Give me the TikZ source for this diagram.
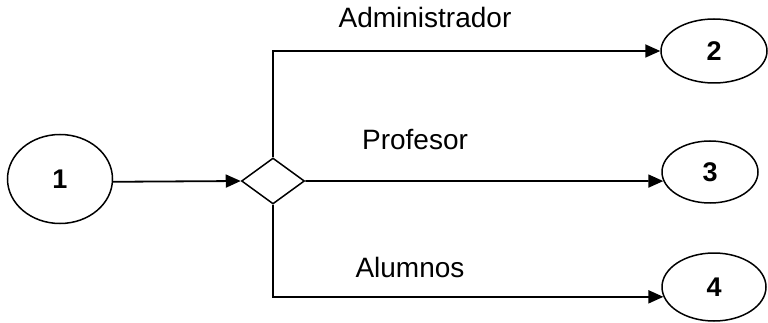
\documentclass[tikz,border=0pt]{standalone}
\usepackage{fontspec}
\setmainfont{Liberation Sans}
\usetikzlibrary{shapes.geometric,arrows.meta}
\tikzset{
  state/.style={draw, ellipse, line width=1.5pt, inner sep=0pt, font=\fontsize{27}{30}\selectfont\bfseries},
  choice/.style={draw, diamond, line width=1.5pt, inner sep=0pt, minimum width=63pt, minimum height=46pt},
  flow/.style={line width=1.8pt, -{Triangle[length=15pt,width=13pt]}},
  lbl/.style={anchor=base, inner sep=0pt, font=\fontsize{28}{32}\selectfont}
}
\begin{document}
\begin{tikzpicture}[x=1pt,y=-1pt]
\useasboundingbox (0,0) rectangle (768,323);
\node[state, minimum width=105pt, minimum height=89pt] (e1) at (60,179) {1};
\node[choice] (d) at (273,181) {};
\node[state, minimum width=106pt, minimum height=64pt] (e2) at (714,51) {2};
\node[state, minimum width=96pt, minimum height=62pt] (e3) at (710,172) {3};
\node[state, minimum width=104pt, minimum height=68pt] (e4) at (714,287) {4};
\draw[flow] (e1.-3) -- (d.west);
\draw[flow] (d.north) |- (e2);
\draw[flow] (d.east) -- (e3.191);
\draw[flow] (d.south) |- (e4.191);
\node[lbl] (l1) at (425,28) {Administrador};
\node[lbl] (l2) at (415,150) {Profesor};
\node[lbl] (l3) at (410,277) {Alumnos};
\end{tikzpicture}
\end{document}
